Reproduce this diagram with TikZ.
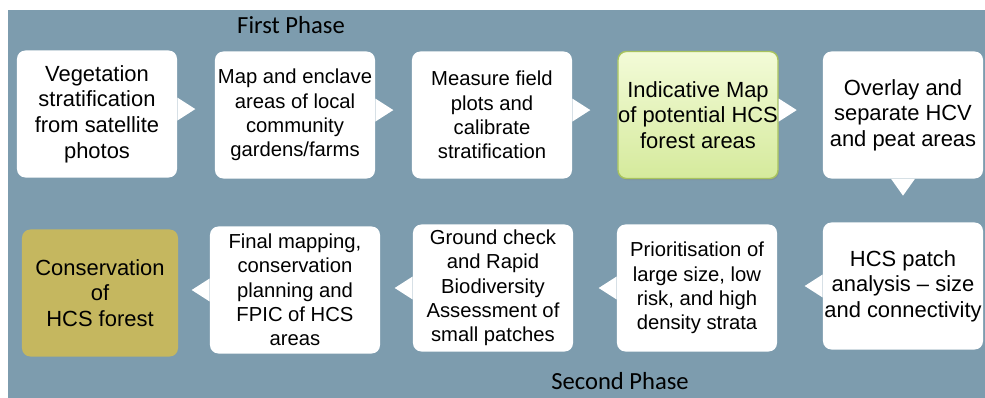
\documentclass[tikz,border=0pt]{standalone}
\usepackage{fontspec}
\setmainfont{Liberation Sans}
\newfontfamily\phasefont{Carlito}
\usetikzlibrary{shadows}

\definecolor{slate}{HTML}{7D9CAE}
\definecolor{leaftop}{HTML}{F3FBD8}
\definecolor{leafbot}{HTML}{D5EA9C}
\definecolor{leafedge}{HTML}{A8C35E}
\definecolor{mossgold}{HTML}{C5B75F}

\begin{document}
\begin{tikzpicture}[x=0.025cm, y=-0.025cm,
  stepbox/.style={fill=white, rounded corners=6pt, minimum width=4cm,
    minimum height=3.175cm, align=center, inner sep=0pt,
    font=\fontsize{14.4}{17.3}\selectfont},
  bigtext/.style={font=\fontsize{15.6}{18.2}\selectfont},
  phase/.style={font=\phasefont\fontsize{17.5}{20}\selectfont}]
  \fill[white] (0,0) rectangle (985,398);
  \fill[slate] (8,10) rectangle (985,398);

  % first phase
  \node[phase] (first) at (291,25) {First Phase};
  \node[stepbox, bigtext] (veg) at (97,114) {Vegetation\\stratification\\from satellite\\photos};
  \node[stepbox] (enclave) at (295,115) {Map and enclave\\areas of local\\community\\gardens/farms};
  \node[stepbox] (plots) at (492,115) {Measure field\\plots and\\calibrate\\stratification};
  \node[stepbox, bigtext, draw=leafedge, line width=1pt, top color=leaftop, bottom color=leafbot,
    drop shadow={opacity=0.3, shadow xshift=0.8pt, shadow yshift=-1.2pt}]
    (indic) at (698,115) {Indicative Map\\of potential HCS\\forest areas};
  \node[stepbox, bigtext] (overlay) at (903,115) {Overlay and\\separate HCV\\and peat areas};

  % second phase
  \node[stepbox, bigtext] (patch) at (903,286) {HCS patch\\analysis – size\\and connectivity};
  \node[stepbox] (prior) at (697,288) {Prioritisation of\\large size, low\\risk, and high\\density strata};
  \node[stepbox] (ground) at (493,288) {Ground check\\and Rapid\\Biodiversity\\Assessment of\\small patches};
  \node[stepbox, minimum width=4.25cm] (final) at (295,290) {Final mapping,\\conservation\\planning and\\FPIC of HCS\\areas};
  \node[stepbox, bigtext, fill=mossgold, minimum width=3.9cm] (conserv) at (100,293) {Conservation\\of\\HCS forest};
  \node[phase] (second) at (620,381) {Second Phase};

  % callout tails
  \foreach \b in {veg,enclave,plots,indic}
    \fill[white] ([yshift=11.7pt]\b.east) -- ([xshift=12.8pt,yshift=3.5pt]\b.east)
      -- ([yshift=-4.7pt]\b.east) -- cycle;
  \foreach \b in {patch,prior,ground,final}
    \fill[white] ([yshift=8.2pt]\b.west) -- ([xshift=-12.8pt]\b.west)
      -- ([yshift=-8.2pt]\b.west) -- cycle;
  \fill[white] ([xshift=-8.5pt]overlay.south) -- ([yshift=-12pt]overlay.south)
    -- ([xshift=8.5pt]overlay.south) -- cycle;
\end{tikzpicture}
\end{document}
